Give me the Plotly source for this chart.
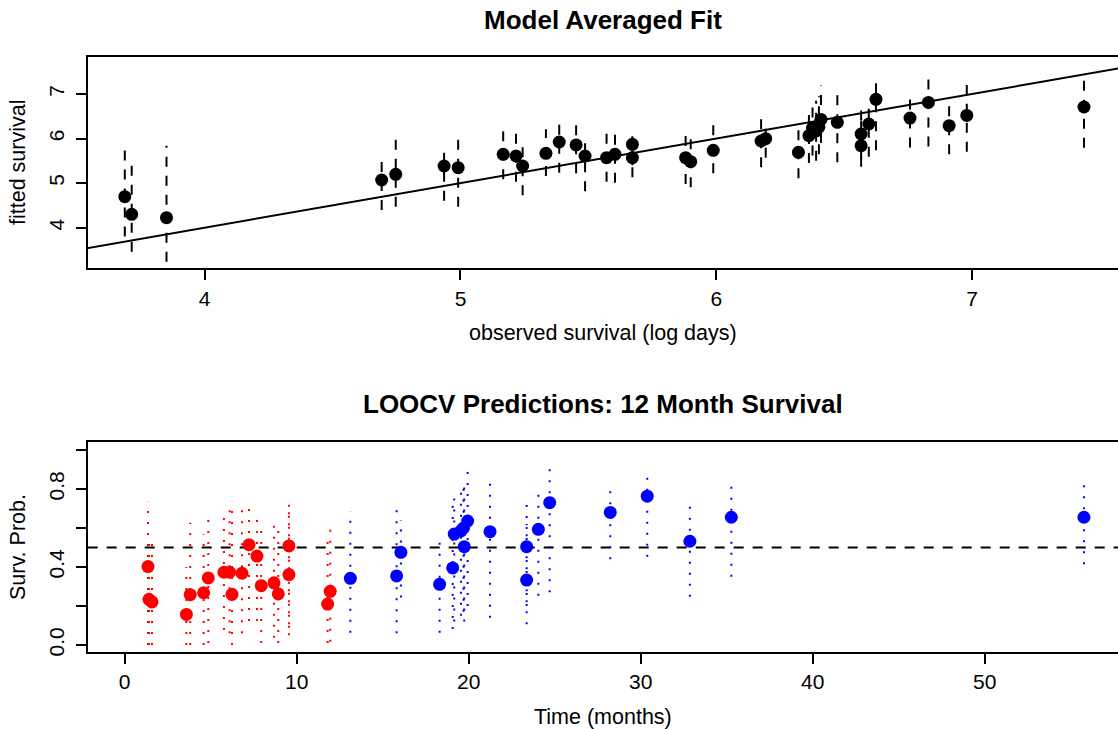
import plotly.graph_objects as go

# ---------------- data: top panel (model averaged fit) ----------------
obs_log_days = [3.688, 3.715, 3.851, 4.692, 4.747, 4.936, 4.991, 5.167, 5.217, 5.243,
                5.334, 5.386, 5.452, 5.487, 5.571, 5.604, 5.672, 5.672, 5.880, 5.900,
                5.988, 6.175, 6.193, 6.321, 6.362, 6.376, 6.390, 6.401, 6.409, 6.473,
                6.566, 6.566, 6.596, 6.624, 6.757, 6.829, 6.910, 6.979, 7.437]
fit_surv = [4.696, 4.30, 4.224, 5.070, 5.198, 5.384, 5.346, 5.647, 5.609, 5.384,
            5.669, 5.923, 5.856, 5.609, 5.571, 5.647, 5.871, 5.571, 5.571, 5.481,
            5.737, 5.945, 5.997, 5.692, 6.064, 6.237, 6.17, 6.26, 6.43, 6.365,
            6.102, 5.84, 6.327, 6.88, 6.46, 6.81, 6.29, 6.52, 6.708]
fit_lo = [3.80, 3.461, 3.237, 4.397, 4.471, 4.606, 4.471, 5.086, 5.03, 4.73,
          5.16, 5.23, 5.22, 4.82, 5.03, 5.01, 5.40, 5.13, 4.98, 4.906,
          5.22, 5.355, 5.57, 5.11, 5.45, 5.62, 5.50, 5.65, 5.90, 5.47,
          5.55, 5.37, 5.59, 5.74, 5.80, 5.82, 5.65, 5.705, 5.795]
fit_hi = [5.907, 5.586, 5.84, 5.564, 6.013, 5.766, 6.006, 6.18, 6.13, 5.89,
          6.21, 6.40, 6.356, 5.98, 6.18, 6.18, 6.21, 5.95, 6.13, 6.06,
          6.38, 6.51, 6.24, 6.30, 6.55, 6.75, 6.85, 6.95, 7.19, 7.09,
          6.66, 6.40, 6.77, 7.37, 6.96, 7.46, 6.83, 7.20, 7.31]
abline_intercept = 0.0
abline_slope = 1.0
top_xticks = [4, 5, 6, 7]
top_yticks = [4, 5, 6, 7]

# ---------------- data: bottom panel (LOOCV predictions) ----------------
time_red = [1.355, 1.413, 1.587, 3.587, 3.81, 4.59, 4.86, 5.77, 6.10, 6.24,
            6.82, 7.23, 7.69, 7.94, 8.68, 8.93, 9.55, 9.55, 11.80, 11.95]
prob_red = [0.402, 0.234, 0.221, 0.157, 0.258, 0.268, 0.344, 0.373, 0.373, 0.26,
            0.368, 0.514, 0.456, 0.304, 0.319, 0.262, 0.508, 0.361, 0.210, 0.275]
lo_red = [0.0, 0.0, 0.0, 0.0, 0.0, 0.0, 0.01, 0.077, 0.06, 0.0,
          0.06, 0.123, 0.123, 0.01, 0.037, 0.01, 0.089, 0.05, 0.01, 0.017]
hi_red = [0.735, 0.56, 0.56, 0.40, 0.627, 0.568, 0.684, 0.692, 0.692, 0.735,
          0.735, 0.742, 0.687, 0.627, 0.655, 0.624, 0.76, 0.70, 0.573, 0.636]

time_blue = [13.12, 15.81, 16.06, 18.31, 19.07, 19.16, 19.55, 19.70, 19.74, 19.94,
             21.24, 23.37, 23.37, 24.05, 24.71, 28.23, 30.38, 32.86, 35.27, 55.77]
prob_blue = [0.342, 0.354, 0.475, 0.311, 0.395, 0.569, 0.585, 0.60, 0.504, 0.636,
             0.581, 0.504, 0.333, 0.593, 0.730, 0.680, 0.763, 0.532, 0.655, 0.655]
lo_blue = [0.063, 0.06, 0.243, 0.063, 0.082, 0.12, 0.15, 0.17, 0.12, 0.20,
           0.14, 0.20, 0.106, 0.253, 0.27, 0.44, 0.453, 0.248, 0.35, 0.414]
hi_blue = [0.684, 0.735, 0.641, 0.568, 0.747, 0.78, 0.80, 0.84, 0.82, 0.918,
           0.872, 0.723, 0.62, 0.815, 0.945, 0.832, 0.90, 0.752, 0.855, 0.863]
threshold = 0.5
bot_xticks = [0, 10, 20, 30, 40, 50]
bot_yticks = [0.0, 0.2, 0.4, 0.6, 0.8, 1.0]
bot_yticktext = ["0.0", "", "0.4", "", "0.8", ""]

# ---------------- layout constants ----------------
W, H = 1118, 729
FONT = "Liberation Sans, Arial, sans-serif"
TICK_FS = 21
LAB_FS = 21.5
TITLE_FS = 26


def px_x(px):
    return px / W


def px_y(py):
    return 1 - py / H


def segs(xs, lo, hi):
    X, Y = [], []
    for x, a, b in zip(xs, lo, hi):
        X += [x, x, None]
        Y += [a, b, None]
    return X, Y


fig = go.Figure()

# top panel: dashed intervals
sx, sy = segs(obs_log_days, fit_lo, fit_hi)
fig.add_trace(go.Scatter(x=sx, y=sy, mode="lines", xaxis="x", yaxis="y",
                         line=dict(color="black", width=2, dash="10px,9px"),
                         hoverinfo="skip", showlegend=False))
# identity line
lx = [3.0, 8.0]
ly = [abline_intercept + abline_slope * v for v in lx]
fig.add_trace(go.Scatter(x=lx, y=ly, mode="lines", xaxis="x", yaxis="y",
                         line=dict(color="black", width=2), showlegend=False))
fig.add_trace(go.Scatter(x=obs_log_days, y=fit_surv, mode="markers", xaxis="x", yaxis="y",
                         marker=dict(color="black", size=13, line=dict(width=0)),
                         showlegend=False))

# bottom panel
for t, p, lo, hi, col in [(time_red, prob_red, lo_red, hi_red, "#FF0000"),
                          (time_blue, prob_blue, lo_blue, hi_blue, "#0000FF")]:
    bx, by = segs(t, lo, hi)
    fig.add_trace(go.Scatter(x=bx, y=by, mode="lines", xaxis="x2", yaxis="y2",
                             line=dict(color=col, width=2, dash="2px,9px"),
                             hoverinfo="skip", showlegend=False))
for t, p, col in [(time_red, prob_red, "#FF0000"), (time_blue, prob_blue, "#0000FF")]:
    fig.add_trace(go.Scatter(x=t, y=p, mode="markers", xaxis="x2", yaxis="y2",
                             marker=dict(color=col, size=13, line=dict(width=0)),
                             showlegend=False))

fig.add_shape(type="line", xref="x2 domain", yref="y2", x0=0, x1=1, y0=threshold, y1=threshold,
              line=dict(color="black", width=2, dash="10px,9px"), layer="below")

left = 87.7
axis_common = dict(showgrid=False, zeroline=False, showline=True, linecolor="black",
                   linewidth=2, ticks="outside", ticklen=10, tickwidth=2, tickcolor="black",
                   tickfont=dict(family=FONT, size=TICK_FS, color="black"))

fig.update_layout(
    width=W, height=H, margin=dict(l=0, r=0, t=0, b=0, autoexpand=False),
    paper_bgcolor="white", plot_bgcolor="white",
    font=dict(family=FONT, color="black"),
    xaxis=dict(domain=[px_x(left), 1], range=[3.543, 7.570], tickvals=top_xticks,
               mirror=True, anchor="y", ticklabelstandoff=0, **axis_common),
    yaxis=dict(domain=[px_y(268.3), px_y(57.3)], range=[3.089, 7.823], tickvals=top_yticks,
               tickangle=-90, anchor="x", ticklabelstandoff=3, **axis_common),
    xaxis2=dict(domain=[px_x(left), 1], range=[-2.15, 57.75], tickvals=bot_xticks,
                mirror=True, anchor="y2", ticklabelstandoff=0, **axis_common),
    yaxis2=dict(domain=[px_y(651.7), px_y(442.3)], range=[-0.0344, 1.0395], tickvals=bot_yticks,
                ticktext=bot_yticktext, tickangle=-90, anchor="x2", ticklabelstandoff=3,
                **axis_common),
)

cx = (left + W) / 2
ann = [
    ("<b>Model Averaged Fit</b>", cx, 20, 0, TITLE_FS),
    ("observed survival (log days)", cx, 333, 0, LAB_FS),
    ("fitted survival", 18, 163, -90, LAB_FS),
    ("<b>LOOCV Predictions: 12 Month Survival</b>", cx, 404, 0, TITLE_FS),
    ("Time (months)", cx, 717, 0, LAB_FS),
    ("Surv. Prob.", 18, 547, -90, LAB_FS),
]
for text, x, y, ang, fs in ann:
    fig.add_annotation(text=text, xref="paper", yref="paper", x=px_x(x), y=px_y(y),
                       xanchor="center", yanchor="middle", showarrow=False, textangle=ang,
                       font=dict(family=FONT, size=fs, color="black"))

fig.write_html("out.html", config={"displayModeBar": False},
               post_script="document.body.style.margin='0';document.body.style.overflow='hidden';")
